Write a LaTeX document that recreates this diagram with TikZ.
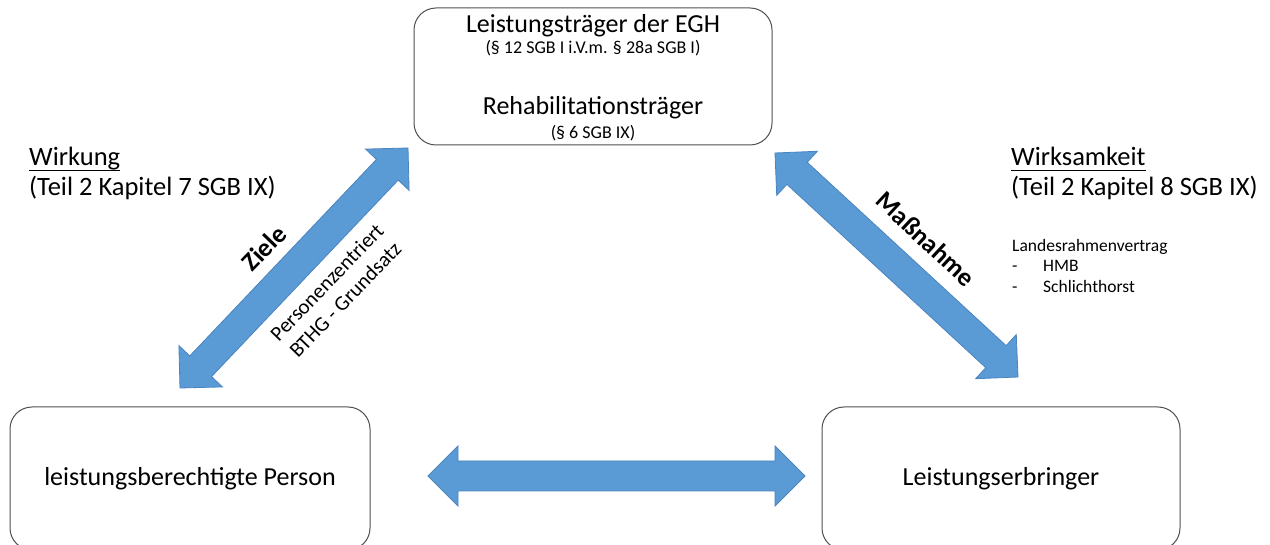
\documentclass[tikz,border=0pt]{standalone}
\usepackage{fontspec}
\setmainfont{Carlito}
\usetikzlibrary{calc}
\definecolor{arrowblue}{HTML}{5B9BD5}
\definecolor{arrowedge}{HTML}{4A84BF}
\definecolor{boxedge}{HTML}{505050}
\newcommand{\fs}[2]{\fontsize{#1}{#2}\selectfont}
\newcommand{\dblarrow}[2]{%
  \coordinate (#1h) at ($(#1)!30pt!(#2)$);
  \coordinate (#2h) at ($(#2)!30pt!(#1)$);
  \filldraw[barrow] (#1) -- ($(#1h)!30pt!90:(#2)$) -- ($(#1h)!15pt!90:(#2)$)
    -- ($(#2h)!15pt!-90:(#1)$) -- ($(#2h)!30pt!-90:(#1)$) -- (#2)
    -- ($(#2h)!30pt!90:(#1)$) -- ($(#2h)!15pt!90:(#1)$)
    -- ($(#1h)!15pt!-90:(#2)$) -- ($(#1h)!30pt!-90:(#2)$) -- cycle;
}
\tikzset{
  rbox/.style={draw=boxedge, line width=1pt, rounded corners=22pt},
  barrow/.style={fill=arrowblue, draw=arrowedge, line width=0.8pt},
  txt/.style={inner sep=0pt, anchor=base},
  txtl/.style={inner sep=0pt, anchor=base west},
}
\begin{document}
\begin{tikzpicture}[x=1pt,y=1pt]
\useasboundingbox (0,0) rectangle (1270,544);
\clip (0,0) rectangle (1270,544);
\fill[white] (0,0) rectangle (1270,544);
% boxes
\draw[rbox] (414,399) rectangle (772,536);
\draw[rbox] (10,-6) rectangle (370,137);
\draw[rbox] (822,-6) rectangle (1180,137);
% top box text
\node[txt, font=\fs{26}{31}] (t1) at (593,511) {Leistungsträger der EGH};
\node[txt, font=\fs{18}{21}] (t2) at (593,490) {(§ 12 SGB I i.V.m. § 28a SGB I)};
\node[txt, font=\fs{26}{31}] (t3) at (593,429) {Rehabilitationsträger};
\node[txt, font=\fs{18}{21}] (t4) at (593,405) {(§ 6 SGB IX)};
% bottom boxes text
\node[txt, font=\fs{26}{31}] (lpt) at (190,59) {leistungsberechtigte Person};
\node[txt, font=\fs{26}{31}] (let) at (1001,59) {Leistungserbringer};
% side texts
\node[txtl, font=\fs{26.5}{31}] (wk) at (29,378) {Wirkung};
\draw[line width=1pt] ($(wk.base west)+(0,-5)$) -- ($(wk.base east)+(0,-5)$);
\node[txtl, font=\fs{26.5}{31}] (wk2) at (29,348) {(Teil 2 Kapitel 7 SGB IX)};
\node[txtl, font=\fs{26.5}{31}] (ws) at (1011,378) {Wirksamkeit};
\draw[line width=1pt] ($(ws.base west)+(0,-5)$) -- ($(ws.base east)+(0,-5)$);
\node[txtl, font=\fs{26.5}{31}] (ws2) at (1011,348) {(Teil 2 Kapitel 8 SGB IX)};
\node[txtl, font=\fs{17.5}{20}] (lr) at (1012,292) {Landesrahmenvertrag};
\node[txtl, font=\fs{17.5}{20}] (d1) at (1012,272) {-};
\node[txtl, font=\fs{17.5}{20}] (hmb) at (1043,272) {HMB};
\node[txtl, font=\fs{17.5}{20}] (d2) at (1012,251) {-};
\node[txtl, font=\fs{17.5}{20}] (sch) at (1043,251) {Schlichthorst};
% arrows
\coordinate (a1) at (180,156);
\coordinate (b1) at (408,396);
\coordinate (a2) at (775,391);
\coordinate (b2) at (1018,167);
\coordinate (a3) at (428,68);
\coordinate (b3) at (805,68);
\dblarrow{a1}{b1}
\dblarrow{a2}{b2}
\dblarrow{a3}{b3}
% arrow labels
\node[inner sep=0pt, rotate=46, font=\fs{26}{31}\bfseries] (ziele) at (264,296) {Ziele};
\node[inner sep=0pt, rotate=46, font=\fs{21}{25.5}, align=center] (pz) at (336,253) {Personenzentriert\\BTHG - Grundsatz};
\node[inner sep=0pt, rotate=-43, font=\fs{26}{31}\bfseries] (mn) at (926,305) {Maßnahme};
\end{tikzpicture}
\end{document}
